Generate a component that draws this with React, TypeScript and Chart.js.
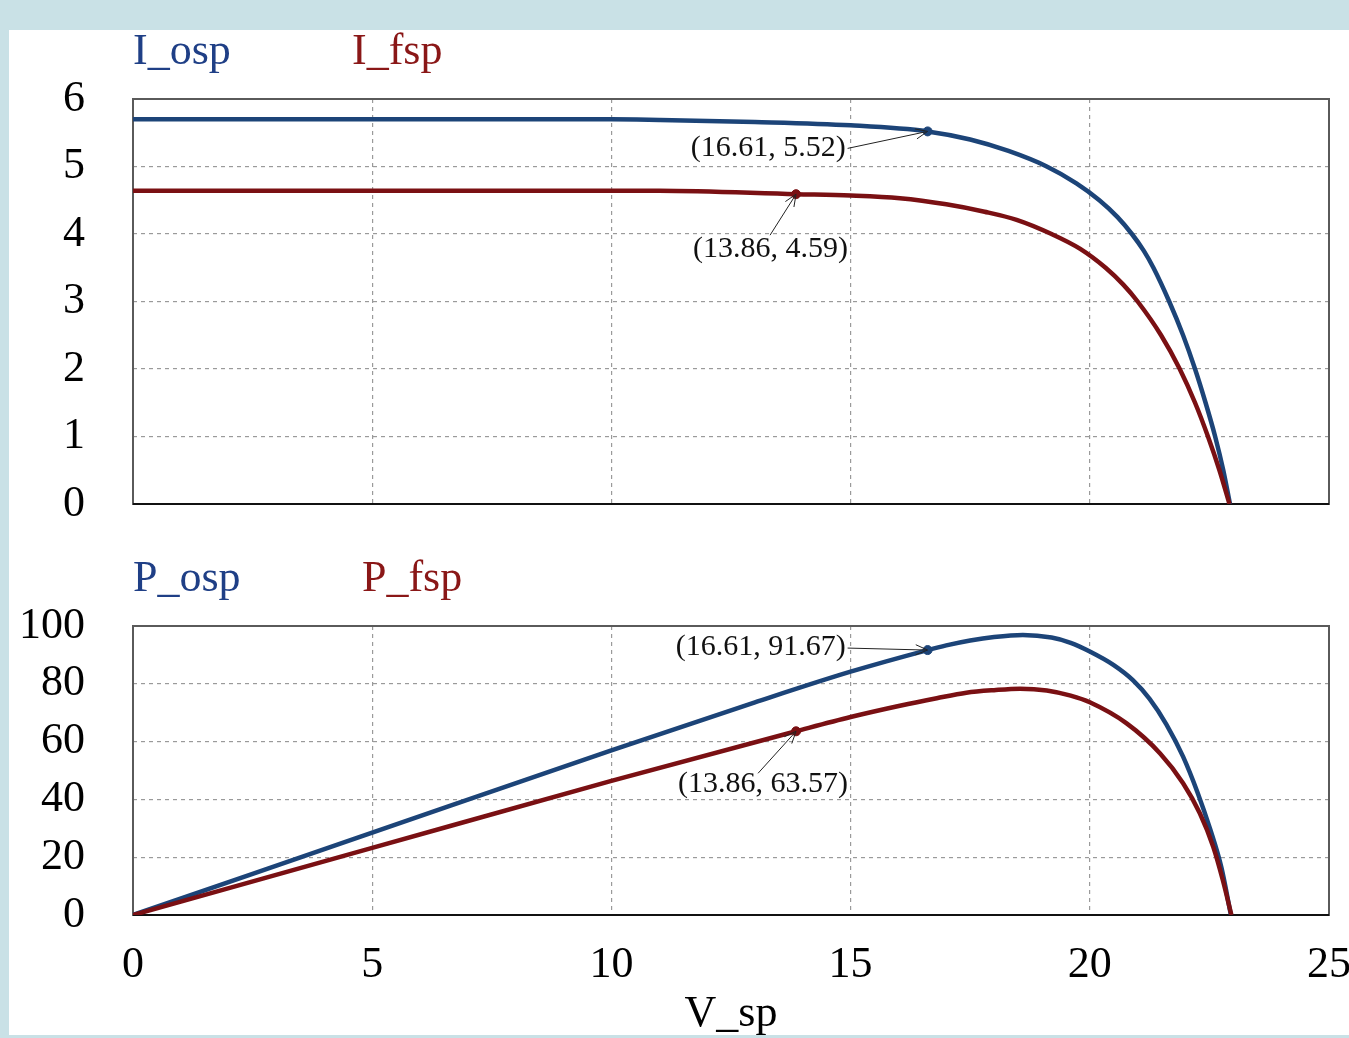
import React, { useEffect, useRef } from "react";
import { Chart, registerables } from "chart.js";

Chart.register(...registerables);

// ---------- data ----------
const vIosp = [0, 5, 10, 11, 13, 15, 16.61, 17.5, 18.3, 19.1, 19.72, 20.2, 20.58, 20.88, 21.13, 21.33, 21.66, 21.95, 22.2, 22.42, 22.62, 22.79, 22.93];
const iOsp = [5.7, 5.7, 5.7, 5.69, 5.66, 5.61, 5.52, 5.4, 5.23, 5.0, 4.75, 4.5, 4.25, 4.0, 3.75, 3.5, 3.0, 2.5, 2.0, 1.5, 1.0, 0.5, 0];

const vIfsp = [0, 5, 10, 11, 13.86, 15, 16.03, 17.0, 17.8, 18.47, 19.2, 19.8, 20.33, 20.7, 21.0, 21.49, 21.88, 22.2, 22.47, 22.71, 22.92];
const iFsp = [4.64, 4.64, 4.64, 4.64, 4.59, 4.57, 4.53, 4.44, 4.33, 4.21, 4.0, 3.78, 3.5, 3.25, 3.0, 2.5, 2.0, 1.5, 1.0, 0.5, 0];

const vPosp = [0, 5, 10, 13, 15, 16.61, 17.0, 17.5, 18.0, 18.6, 19.2, 19.6, 20.0, 20.5, 20.9, 21.25, 21.6, 21.95, 22.25, 22.52, 22.75, 22.95];
const pOsp = [0, 28.5, 57.0, 73.6, 84.2, 91.67, 93.3, 95.0, 96.2, 96.9, 96.0, 94.2, 91.2, 86.5, 81.3, 74.8, 66.0, 54.8, 42.5, 29.5, 16.5, 0];

const vPfsp = [0, 5, 10, 13.86, 15, 16.03, 16.8, 17.42, 18.0, 18.54, 19.1, 19.6, 20.0, 20.77, 21.47, 21.95, 22.3, 22.58, 22.78, 22.96];
const pFsp = [0, 23.2, 46.4, 63.57, 68.5, 72.4, 75.0, 76.9, 77.8, 78.3, 77.7, 75.9, 73.6, 66.3, 55.9, 45.6, 35.2, 23.6, 12.1, 0];

// marked points
const markVosp = 16.61;
const markVfsp = 13.86;
const markIosp = 5.52;
const markIfsp = 4.59;
const markPosp = 91.67;
const markPfsp = 63.57;

const legendTop = ["I_osp", "I_fsp"];
const legendBottom = ["P_osp", "P_fsp"];
const xTitle = "V_sp";
const xMin = 0, xMax = 25, xStep = 5;
const iMax = 6, iStep = 1;
const pMax = 100, pStep = 20;

// ---------- styles ----------
const BLUE = "#1c4478";
const RED = "#7a1013";
const BLUE_TXT = "#1f3f86";
const RED_TXT = "#8a1717";
const FONT = "'Liberation Serif', 'Times New Roman', serif";
const BIG = 44;
const SMALL = 30;

type Ann = { x: number; y: number; color: string; tdx: number; tdy: number; ldx: number; ldy: number };

const pts = (xs: number[], ys: number[]) => xs.map((x, i) => ({ x, y: ys[i] }));
const fmt = (n: number) => n.toFixed(2);

interface PanelProps {
  top: number;
  height: number;
  padTop: number;
  xAxisH: number;
  showX: boolean;
  yMax: number;
  yStep: number;
  blue: { x: number; y: number }[];
  red: { x: number; y: number }[];
  anns: Ann[];
  legend: string[];
  legendX: number[];
  legendBase: number;
  title?: string;
  titleBase?: number;
}

function Panel(p: PanelProps) {
  const ref = useRef<HTMLCanvasElement | null>(null);
  useEffect(() => {
    if (!ref.current) return;
    const overlay = {
      id: "overlay",
      beforeDatasetsDraw(chart: any) {
        const { ctx, chartArea: a } = chart;
        ctx.save();
        ctx.strokeStyle = "#5a5a5a";
        ctx.lineWidth = 2;
        ctx.strokeRect(a.left, a.top, a.right - a.left, a.bottom - a.top);
        ctx.strokeStyle = "#111";
        ctx.beginPath();
        ctx.moveTo(a.left, a.bottom);
        ctx.lineTo(a.right, a.bottom);
        ctx.stroke();
        ctx.restore();
      },
      afterDatasetsDraw(chart: any) {
        const { ctx, scales } = chart;
        const xs = scales.x, ys = scales.y;
        ctx.save();
        for (const an of p.anns) {
          const px = xs.getPixelForValue(an.x);
          const py = ys.getPixelForValue(an.y);
          ctx.font = `${SMALL}px ${FONT}`;
          ctx.fillStyle = "#111";
          ctx.textAlign = "right";
          ctx.textBaseline = "middle";
          ctx.fillText(`(${fmt(an.x)}, ${fmt(an.y)})`, px + an.tdx, py + an.tdy);
          const sx = px + an.ldx, sy = py + an.ldy;
          const ang = Math.atan2(py - sy, px - sx);
          ctx.strokeStyle = "#222";
          ctx.lineWidth = 1;
          ctx.beginPath();
          ctx.moveTo(sx, sy);
          ctx.lineTo(px - 2 * Math.cos(ang), py - 2 * Math.sin(ang));
          ctx.stroke();
          const L = 13;
          ctx.beginPath();
          ctx.moveTo(px - L * Math.cos(ang - 0.4), py - L * Math.sin(ang - 0.4));
          ctx.lineTo(px, py);
          ctx.lineTo(px - L * Math.cos(ang + 0.4), py - L * Math.sin(ang + 0.4));
          ctx.stroke();
        }
        ctx.restore();
      },
      afterDraw(chart: any) {
        const { ctx, chartArea: a } = chart;
        ctx.save();
        ctx.font = `${BIG}px ${FONT}`;
        ctx.textAlign = "left";
        ctx.textBaseline = "alphabetic";
        ctx.fillStyle = BLUE_TXT;
        ctx.fillText(p.legend[0], p.legendX[0], p.legendBase);
        ctx.fillStyle = RED_TXT;
        ctx.fillText(p.legend[1], p.legendX[1], p.legendBase);
        if (p.title) {
          ctx.fillStyle = "#000";
          ctx.textAlign = "center";
          ctx.fillText(p.title, (a.left + a.right) / 2, p.titleBase || 0);
        }
        ctx.restore();
      },
    };

    const chart = new Chart(ref.current, {
      type: "line",
      data: {
        datasets: [
          {
            data: p.anns.filter((a) => a.color === RED).map((a) => ({ x: a.x, y: a.y })),
            showLine: false,
            pointRadius: 4.5,
            pointBackgroundColor: RED,
            pointBorderColor: RED,
            borderColor: RED,
          },
          {
            data: p.anns.filter((a) => a.color === BLUE).map((a) => ({ x: a.x, y: a.y })),
            showLine: false,
            pointRadius: 4.5,
            pointBackgroundColor: BLUE,
            pointBorderColor: BLUE,
            borderColor: BLUE,
          },
          {
            data: p.red,
            borderColor: RED,
            borderWidth: 4.5,
            pointRadius: 0,
            cubicInterpolationMode: "monotone",
            fill: false,
          },
          {
            data: p.blue,
            borderColor: BLUE,
            borderWidth: 4.5,
            pointRadius: 0,
            cubicInterpolationMode: "monotone",
            fill: false,
          },
        ],
      },
      options: {
        responsive: false,
        animation: false,
        events: [],
        layout: { padding: { top: p.padTop, right: 20, left: 0, bottom: 0 } },
        plugins: { legend: { display: false }, tooltip: { enabled: false } },
        scales: {
          x: {
            type: "linear",
            min: xMin,
            max: xMax,
            afterFit: (s: any) => {
              s.height = p.xAxisH;
              s.paddingLeft = 0;
              s.paddingRight = 0;
            },
            ticks: {
              display: p.showX,
              stepSize: xStep,
              color: "#000",
              padding: 24,
              maxRotation: 0,
              font: { family: FONT, size: BIG },
            },
            grid: { color: "#9a9a9a", lineWidth: 1.2, drawTicks: false },
            border: { display: false, dash: [4, 4] },
          },
          y: {
            type: "linear",
            min: 0,
            max: p.yMax,
            afterFit: (s: any) => {
              s.width = 124;
              s.paddingTop = 0;
              s.paddingBottom = 0;
            },
            ticks: {
              stepSize: p.yStep,
              color: "#000",
              padding: 48,
              font: { family: FONT, size: BIG },
            },
            grid: { color: "#9a9a9a", lineWidth: 1.2, drawTicks: false },
            border: { display: false, dash: [4, 4] },
          },
        },
      },
      plugins: [overlay],
    } as any);
    return () => chart.destroy();
  }, []);
  return (
    <canvas
      ref={ref}
      width={1340}
      height={p.height}
      style={{ position: "absolute", left: 9, top: p.top, width: 1340, height: p.height }}
    />
  );
}

export default function App() {
  Chart.defaults.font.family = FONT;
  const topAnns: Ann[] = [
    { x: markVosp, y: markIosp, color: BLUE, tdx: -82, tdy: 17, ldx: -80, ldy: 17 },
    { x: markVfsp, y: markIfsp, color: RED, tdx: 52, tdy: 55, ldx: -26, ldy: 41 },
  ];
  const botAnns: Ann[] = [
    { x: markVosp, y: markPosp, color: BLUE, tdx: -82, tdy: -3, ldx: -80, ldy: -2 },
    { x: markVfsp, y: markPfsp, color: RED, tdx: 52, tdy: 53, ldx: -38, ldy: 42 },
  ];
  return (
    <div style={{ position: "fixed", left: 0, top: 0, width: 1349, height: 1038, background: "#c9e1e6", overflow: "hidden" }}>
      <div style={{ position: "absolute", left: 9, top: 30, width: 1340, height: 1005, background: "#fff" }} />
      <Panel
        top={30}
        height={510}
        padTop={69}
        xAxisH={36}
        showX={false}
        yMax={iMax}
        yStep={iStep}
        blue={pts(vIosp, iOsp)}
        red={pts(vIfsp, iFsp)}
        anns={topAnns}
        legend={legendTop}
        legendX={[124, 343]}
        legendBase={34}
      />
      <Panel
        top={540}
        height={495}
        padTop={86}
        xAxisH={120}
        showX={true}
        yMax={pMax}
        yStep={pStep}
        blue={pts(vPosp, pOsp)}
        red={pts(vPfsp, pFsp)}
        anns={botAnns}
        legend={legendBottom}
        legendX={[124, 353]}
        legendBase={51}
        title={xTitle}
        titleBase={486}
      />
    </div>
  );
}
